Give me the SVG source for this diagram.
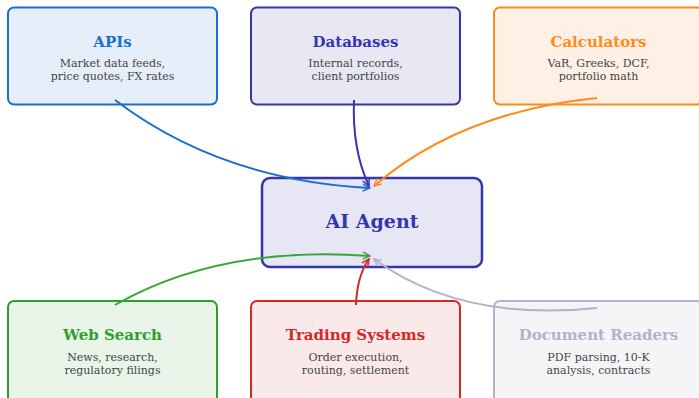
<svg xmlns="http://www.w3.org/2000/svg" width="699" height="398" viewBox="0 0 699 398">
<style>
.t{font-family:"DejaVu Serif",serif;font-weight:bold;font-size:15px;text-anchor:middle}
.s{font-family:"DejaVu Serif",serif;font-size:11px;fill:#444;text-anchor:middle}
.b{stroke-width:2}
.c{fill:none;stroke-width:2}
</style>
<defs>
<marker id="mb" viewBox="0 0 10 10" refX="9" refY="5" markerWidth="9" markerHeight="9" orient="auto" markerUnits="userSpaceOnUse"><path d="M1,1 L9,5 L1,9" fill="none" stroke="#1a6fd0" stroke-width="1.6"/></marker>
<marker id="md" viewBox="0 0 10 10" refX="9" refY="5" markerWidth="9" markerHeight="9" orient="auto" markerUnits="userSpaceOnUse"><path d="M1,1 L9,5 L1,9" fill="none" stroke="#3535b0" stroke-width="1.6"/></marker>
<marker id="mo" viewBox="0 0 10 10" refX="9" refY="5" markerWidth="9" markerHeight="9" orient="auto" markerUnits="userSpaceOnUse"><path d="M1,1 L9,5 L1,9" fill="none" stroke="#ff8c1a" stroke-width="1.6"/></marker>
<marker id="mg" viewBox="0 0 10 10" refX="9" refY="5" markerWidth="9" markerHeight="9" orient="auto" markerUnits="userSpaceOnUse"><path d="M1,1 L9,5 L1,9" fill="none" stroke="#3aa63a" stroke-width="1.6"/></marker>
<marker id="mr" viewBox="0 0 10 10" refX="9" refY="5" markerWidth="9" markerHeight="9" orient="auto" markerUnits="userSpaceOnUse"><path d="M1,1 L9,5 L1,9" fill="none" stroke="#d62728" stroke-width="1.6"/></marker>
<marker id="mx" viewBox="0 0 10 10" refX="9" refY="5" markerWidth="9" markerHeight="9" orient="auto" markerUnits="userSpaceOnUse"><path d="M1,1 L9,5 L1,9" fill="none" stroke="#b3b3c8" stroke-width="1.6"/></marker>
</defs>
<rect width="699" height="398" fill="#fff"/>
<g id="apis">
<rect class="b" x="8" y="7.5" width="209" height="97" rx="6" fill="#e6eef9" stroke="#1a6fd0"/>
<text class="t" x="112.5" y="46.5" fill="#1a6fd0">APIs</text>
<text class="s" x="112.5" y="67">Market data feeds,</text>
<text class="s" x="112.5" y="80">price quotes, FX rates</text>
</g>
<g id="databases">
<rect class="b" x="251" y="7.5" width="209" height="97" rx="6" fill="#e8e8f5" stroke="#3535b0"/>
<text class="t" x="355.5" y="46.5" fill="#3535b0">Databases</text>
<text class="s" x="355.5" y="67">Internal records,</text>
<text class="s" x="355.5" y="80">client portfolios</text>
</g>
<g id="calculators">
<rect class="b" x="494" y="7.5" width="209" height="97" rx="6" fill="#fff0e6" stroke="#ff8c1a"/>
<text class="t" x="598.5" y="46.5" fill="#ff8c1a">Calculators</text>
<text class="s" x="598.5" y="67">VaR, Greeks, DCF,</text>
<text class="s" x="598.5" y="80">portfolio math</text>
</g>
<g id="agent">
<rect x="262" y="178" width="220" height="89" rx="8" fill="#e6e6f5" stroke="#3535b0" stroke-width="2.5"/>
<text class="t" x="372" y="228" fill="#3535b0" style="font-size:19px">AI Agent</text>
</g>
<g id="websearch">
<rect class="b" x="8" y="301" width="209" height="110" rx="6" fill="#e9f5e9" stroke="#2ca02c"/>
<text class="t" x="112.5" y="340" fill="#2ca02c">Web Search</text>
<text class="s" x="112.5" y="361">News, research,</text>
<text class="s" x="112.5" y="374">regulatory filings</text>
</g>
<g id="trading">
<rect class="b" x="251" y="301" width="209" height="110" rx="6" fill="#fae9e9" stroke="#d62728"/>
<text class="t" x="355.5" y="340" fill="#d62728">Trading Systems</text>
<text class="s" x="355.5" y="361">Order execution,</text>
<text class="s" x="355.5" y="374">routing, settlement</text>
</g>
<g id="docreaders">
<rect class="b" x="494" y="301" width="209" height="110" rx="6" fill="#f5f5f8" stroke="#b3b3c8"/>
<text class="t" x="598.5" y="340" fill="#b3b3c8">Document Readers</text>
<text class="s" x="598.5" y="361">PDF parsing, 10-K</text>
<text class="s" x="598.5" y="374">analysis, contracts</text>
</g>
<g id="connectors">
<path class="c" d="M115,100 Q220,180 370,188" stroke="#1a6fd0" marker-end="url(#mb)"/>
<path class="c" d="M354,100 Q352,150 369,186" stroke="#3535b0" marker-end="url(#md)"/>
<path class="c" d="M597,98 Q460,112 374,186" stroke="#ff8c1a" marker-end="url(#mo)"/>
<path class="c" d="M115,305 Q220,245 370,256" stroke="#3aa63a" marker-end="url(#mg)"/>
<path class="c" d="M356,305 Q357,276 369,259" stroke="#d62728" marker-end="url(#mr)"/>
<path class="c" d="M597,308 Q460,322 374,259" stroke="#b3b3c8" marker-end="url(#mx)"/>
</g>
</svg>
